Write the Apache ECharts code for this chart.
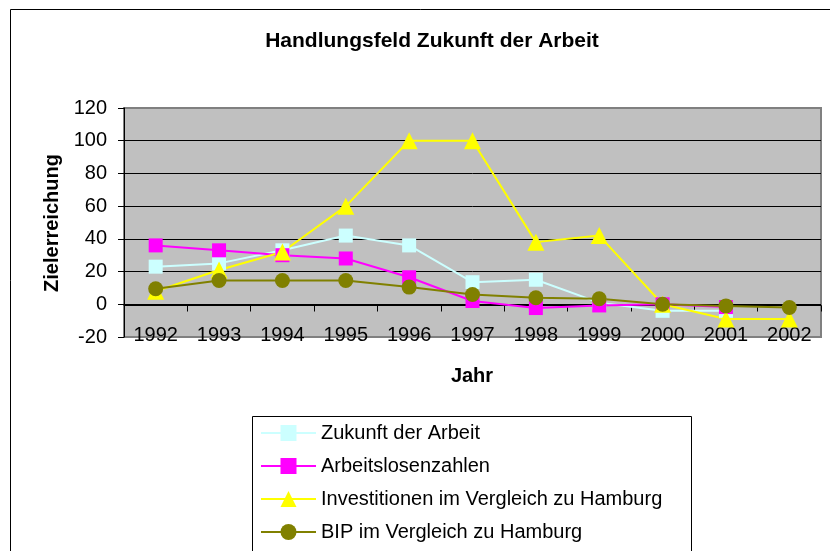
<!DOCTYPE html>
<html>
<head>
<meta charset="utf-8">
<script src="https://cdn.jsdelivr.net/npm/echarts@6/dist/echarts.min.js"></script>
<style>
html,body{margin:0;padding:0;background:#fff;}
#c{width:830px;height:551px;}
</style>
</head>
<body>
<div id="c"></div>
<script>
var years = ['1992','1993','1994','1995','1996','1997','1998','1999','2000','2001','2002'];
var zukunftDerArbeit = [23, 25, 33, 42, 36, 13.5, 15, 1, -4, -4, null];
var arbeitslosenzahlen = [36, 33, 30, 28, 16.5, 2, -2.3, -0.7, 0, -1.7, null];
var investitionen = [8, 21, 32, 60, 100, 100, 38, 42, 0, -9, -9];
var bip = [9.5, 14.5, 14.5, 14.5, 10.5, 6, 4, 3.4, 0, -1, -2];
var yTicks = [-20, 0, 20, 40, 60, 80, 100, 120];

var FONT = '"Liberation Sans", Arial, sans-serif';
var chart = echarts.init(document.getElementById('c'), null, {renderer: 'canvas'});

function mk(name, data, color, symbol, size) {
  return {
    name: name, type: 'line', data: data, xAxisIndex: 0,
    symbol: symbol, symbolSize: size, showAllSymbol: true,
    lineStyle: {color: color, width: 2},
    itemStyle: {color: color},
    emphasis: {disabled: true},
    animation: false
  };
}

chart.setOption({
  backgroundColor: '#fff',
  animation: false,
  title: {
    text: 'Handlungsfeld Zukunft der Arbeit',
    left: 427, top: 26, textAlign: 'center',
    textStyle: {fontFamily: FONT, fontSize: 21, fontWeight: 'bold', color: '#000'}
  },
  grid: {
    left: 124, top: 108, right: 9, bottom: 214,
    show: true, backgroundColor: '#C0C0C0', borderColor: '#808080', borderWidth: 2
  },
  legend: {
    orient: 'vertical', left: 252, top: 416,
    padding: [7, 8, 2, 8],
    itemGap: 13, itemWidth: 55, itemHeight: 20,
    borderWidth: 0,
    textStyle: {fontFamily: FONT, fontSize: 20, color: '#000', lineHeight: 20},
    data: ['Zukunft der Arbeit', 'Arbeitslosenzahlen', 'Investitionen im Vergleich zu Hamburg', 'BIP im Vergleich zu Hamburg']
  },
  xAxis: [{
    type: 'category', data: years, boundaryGap: true, position: 'bottom',
    axisLine: {show: false, onZero: false},
    axisTick: {show: false},
    axisLabel: {margin: -12, fontFamily: FONT, fontSize: 20, color: '#000'},
    splitLine: {show: false}
  }, {
    type: 'category', data: years, boundaryGap: true, position: 'bottom', offset: -31.5,
    axisLine: {show: true, onZero: false, lineStyle: {color: '#000', width: 1}},
    axisTick: {show: true, length: 6, inside: false, lineStyle: {color: '#000'}},
    axisLabel: {show: false},
    splitLine: {show: false}
  }],
  yAxis: {
    type: 'value', min: -20, max: 120, interval: 20,
    axisLine: {show: true, lineStyle: {color: '#000', width: 1}},
    axisTick: {show: true, length: 6, lineStyle: {color: '#000'}},
    axisLabel: {margin: 17, fontFamily: FONT, fontSize: 20, color: '#000',
      formatter: function (v) { return yTicks.indexOf(v) >= 0 ? String(v) : ''; }},
    splitLine: {show: true, lineStyle: {color: ['#808080', '#000', '#000', '#000', '#000', '#000', '#000', '#808080'], width: 1}}
  },
  graphic: [
    {type: 'rect', z: -10, silent: true, shape: {x: 10.5, y: 9.5, width: 830, height: 560},
      style: {fill: null, stroke: '#000', lineWidth: 1}},
    {type: 'rect', z: -5, silent: true, shape: {x: 252.5, y: 416.5, width: 439, height: 200},
      style: {fill: '#fff', stroke: '#000', lineWidth: 1}},
    {type: 'text', silent: true, x: 472, y: 376,
      style: {text: 'Jahr', fontFamily: FONT, fontSize: 20, fontWeight: 'bold', fill: '#000', align: 'center', verticalAlign: 'middle'}},
    {type: 'text', silent: true, x: 52, y: 223, rotation: Math.PI / 2,
      style: {text: 'Zielerreichung', fontFamily: FONT, fontSize: 20, fontWeight: 'bold', fill: '#000', align: 'center', verticalAlign: 'middle'}}
  ],
  series: [
    mk('Zukunft der Arbeit', zukunftDerArbeit, '#CCFFFF', 'rect', 14),
    mk('Arbeitslosenzahlen', arbeitslosenzahlen, '#FF00FF', 'rect', 14),
    mk('Investitionen im Vergleich zu Hamburg', investitionen, '#FFFF00', 'triangle', 17),
    mk('BIP im Vergleich zu Hamburg', bip, '#808000', 'circle', 15)
  ]
});
</script>
</body>
</html>
